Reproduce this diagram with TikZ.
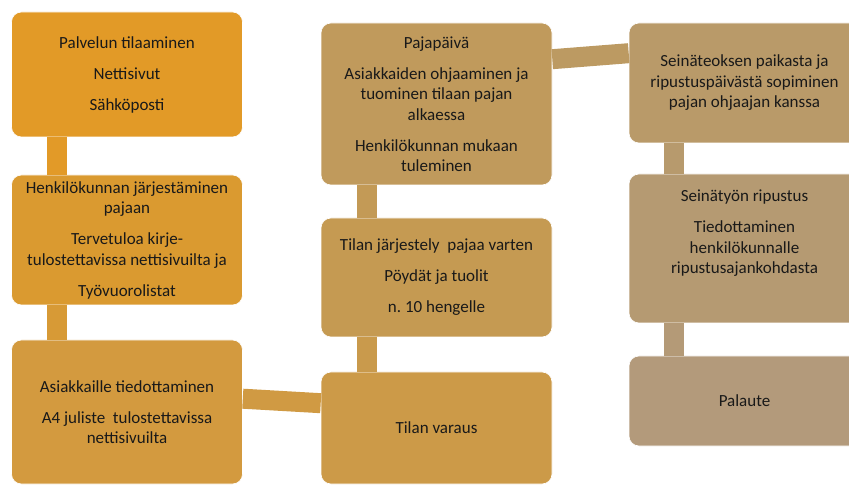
\documentclass[tikz,border=0pt]{standalone}
\usepackage{fontspec}
\setmainfont{Carlito}
\frenchspacing
\definecolor{c1}{HTML}{E29A27}
\definecolor{c2}{HTML}{DA9A30}
\definecolor{c3}{HTML}{D39A3F}
\definecolor{c4}{HTML}{CC9A48}
\definecolor{c5}{HTML}{C59A52}
\definecolor{c6}{HTML}{C09A5C}
\definecolor{c7}{HTML}{B99A69}
\definecolor{c8}{HTML}{B59A72}
\definecolor{c9}{HTML}{B39A7B}
\newcommand{\pgap}{\\[10.5pt]}

\begin{document}
\begin{tikzpicture}[x=1pt,y=-1pt]

      \clip (0,0) rectangle (849,486);
      \fill[white] (0,0) rectangle (849,486);

      \begin{scope}[every node/.style={rectangle,rounded corners=10pt,draw=white,line width=.6pt,
          minimum width=231pt,inner sep=0pt,align=center,text=black!90,
          font=\fontsize{17}{20.5}\selectfont}]
        \node[fill=c1,minimum height=125pt] (tilaus)   at (127,74.5)  {Palvelun tilaaminen\pgap Nettisivut\pgap Sähköposti};
        \node[fill=c2,minimum height=130pt] (henk)     at (127,240)   {Henkilökunnan järjestäminen\\pajaan\pgap Tervetuloa kirje-\\tulostettavissa nettisivuilta ja\pgap Työvuorolistat};
        \node[fill=c3,minimum height=144pt] (asiak)    at (127,412)   {Asiakkaille tiedottaminen\pgap A4 juliste~ tulostettavissa\\nettisivuilta};
        \node[fill=c4,minimum height=112pt] (varaus)   at (436.5,428) {Tilan varaus};
        \node[fill=c5,minimum height=119pt] (jarj)     at (436.5,277.5) {Tilan järjestely~ pajaa varten\pgap Pöydät ja tuolit\pgap n. 10 hengelle};
        \node[fill=c6,minimum height=162pt] (paja)     at (436.5,104) {Pajapäivä\pgap Asiakkaiden ohjaaminen ja\\tuominen tilaan pajan\\alkaessa\pgap Henkilökunnan mukaan\\tuleminen};
        \node[fill=c7,minimum height=120pt] (seina)    at (744.5,83)  {Seinäteoksen paikasta ja\\ripustuspäivästä sopiminen\\pajan ohjaajan kanssa};
        \node[fill=c8,minimum height=149pt] (ripustus) at (744.5,248.5) {};
        \node[fill=c9,minimum height=90pt]  (palaute)  at (744.5,401) {Palaute};
      \end{scope}

      % ripustus text sits high in its box
      \node[align=center,text=black!90,font=\fontsize{17}{20.5}\selectfont,anchor=north]
        (ripteksti) at ([yshift=-13pt]ripustus.north) {Seinätyön ripustus\pgap Tiedottaminen\\henkilökunnalle\\ripustusajankohdasta};

      \begin{scope}[every edge/.style={draw,line width=20pt}]
        \path ([xshift=46pt]tilaus.south west)  edge[c1!95!c2] ([xshift=46pt]henk.north west);
        \path ([xshift=46pt]henk.south west)    edge[c2!60!c3] ([xshift=46pt]asiak.north west);
        \path ([yshift=-59pt]asiak.north east)  edge[c3!60!c4] ([yshift=-31.5pt]varaus.north west);
        \path ([xshift=46pt]varaus.north west)  edge[c4!60!c5] ([xshift=46pt]jarj.south west);
        \path ([xshift=46pt]jarj.north west)    edge[c5!60!c6] ([xshift=46pt]paja.south west);
        \path ([yshift=-36.5pt]paja.north east) edge[c6!50!c7] ([yshift=-30.5pt]seina.north west);
        \path ([xshift=45.5pt]seina.south west) edge[c7!50!c8] ([xshift=45.5pt]ripustus.north west);
        \path ([xshift=45.5pt]ripustus.south west) edge[c8!50!c9] ([xshift=45.5pt]palaute.north west);
      \end{scope}

    \end{tikzpicture}
\end{document}
